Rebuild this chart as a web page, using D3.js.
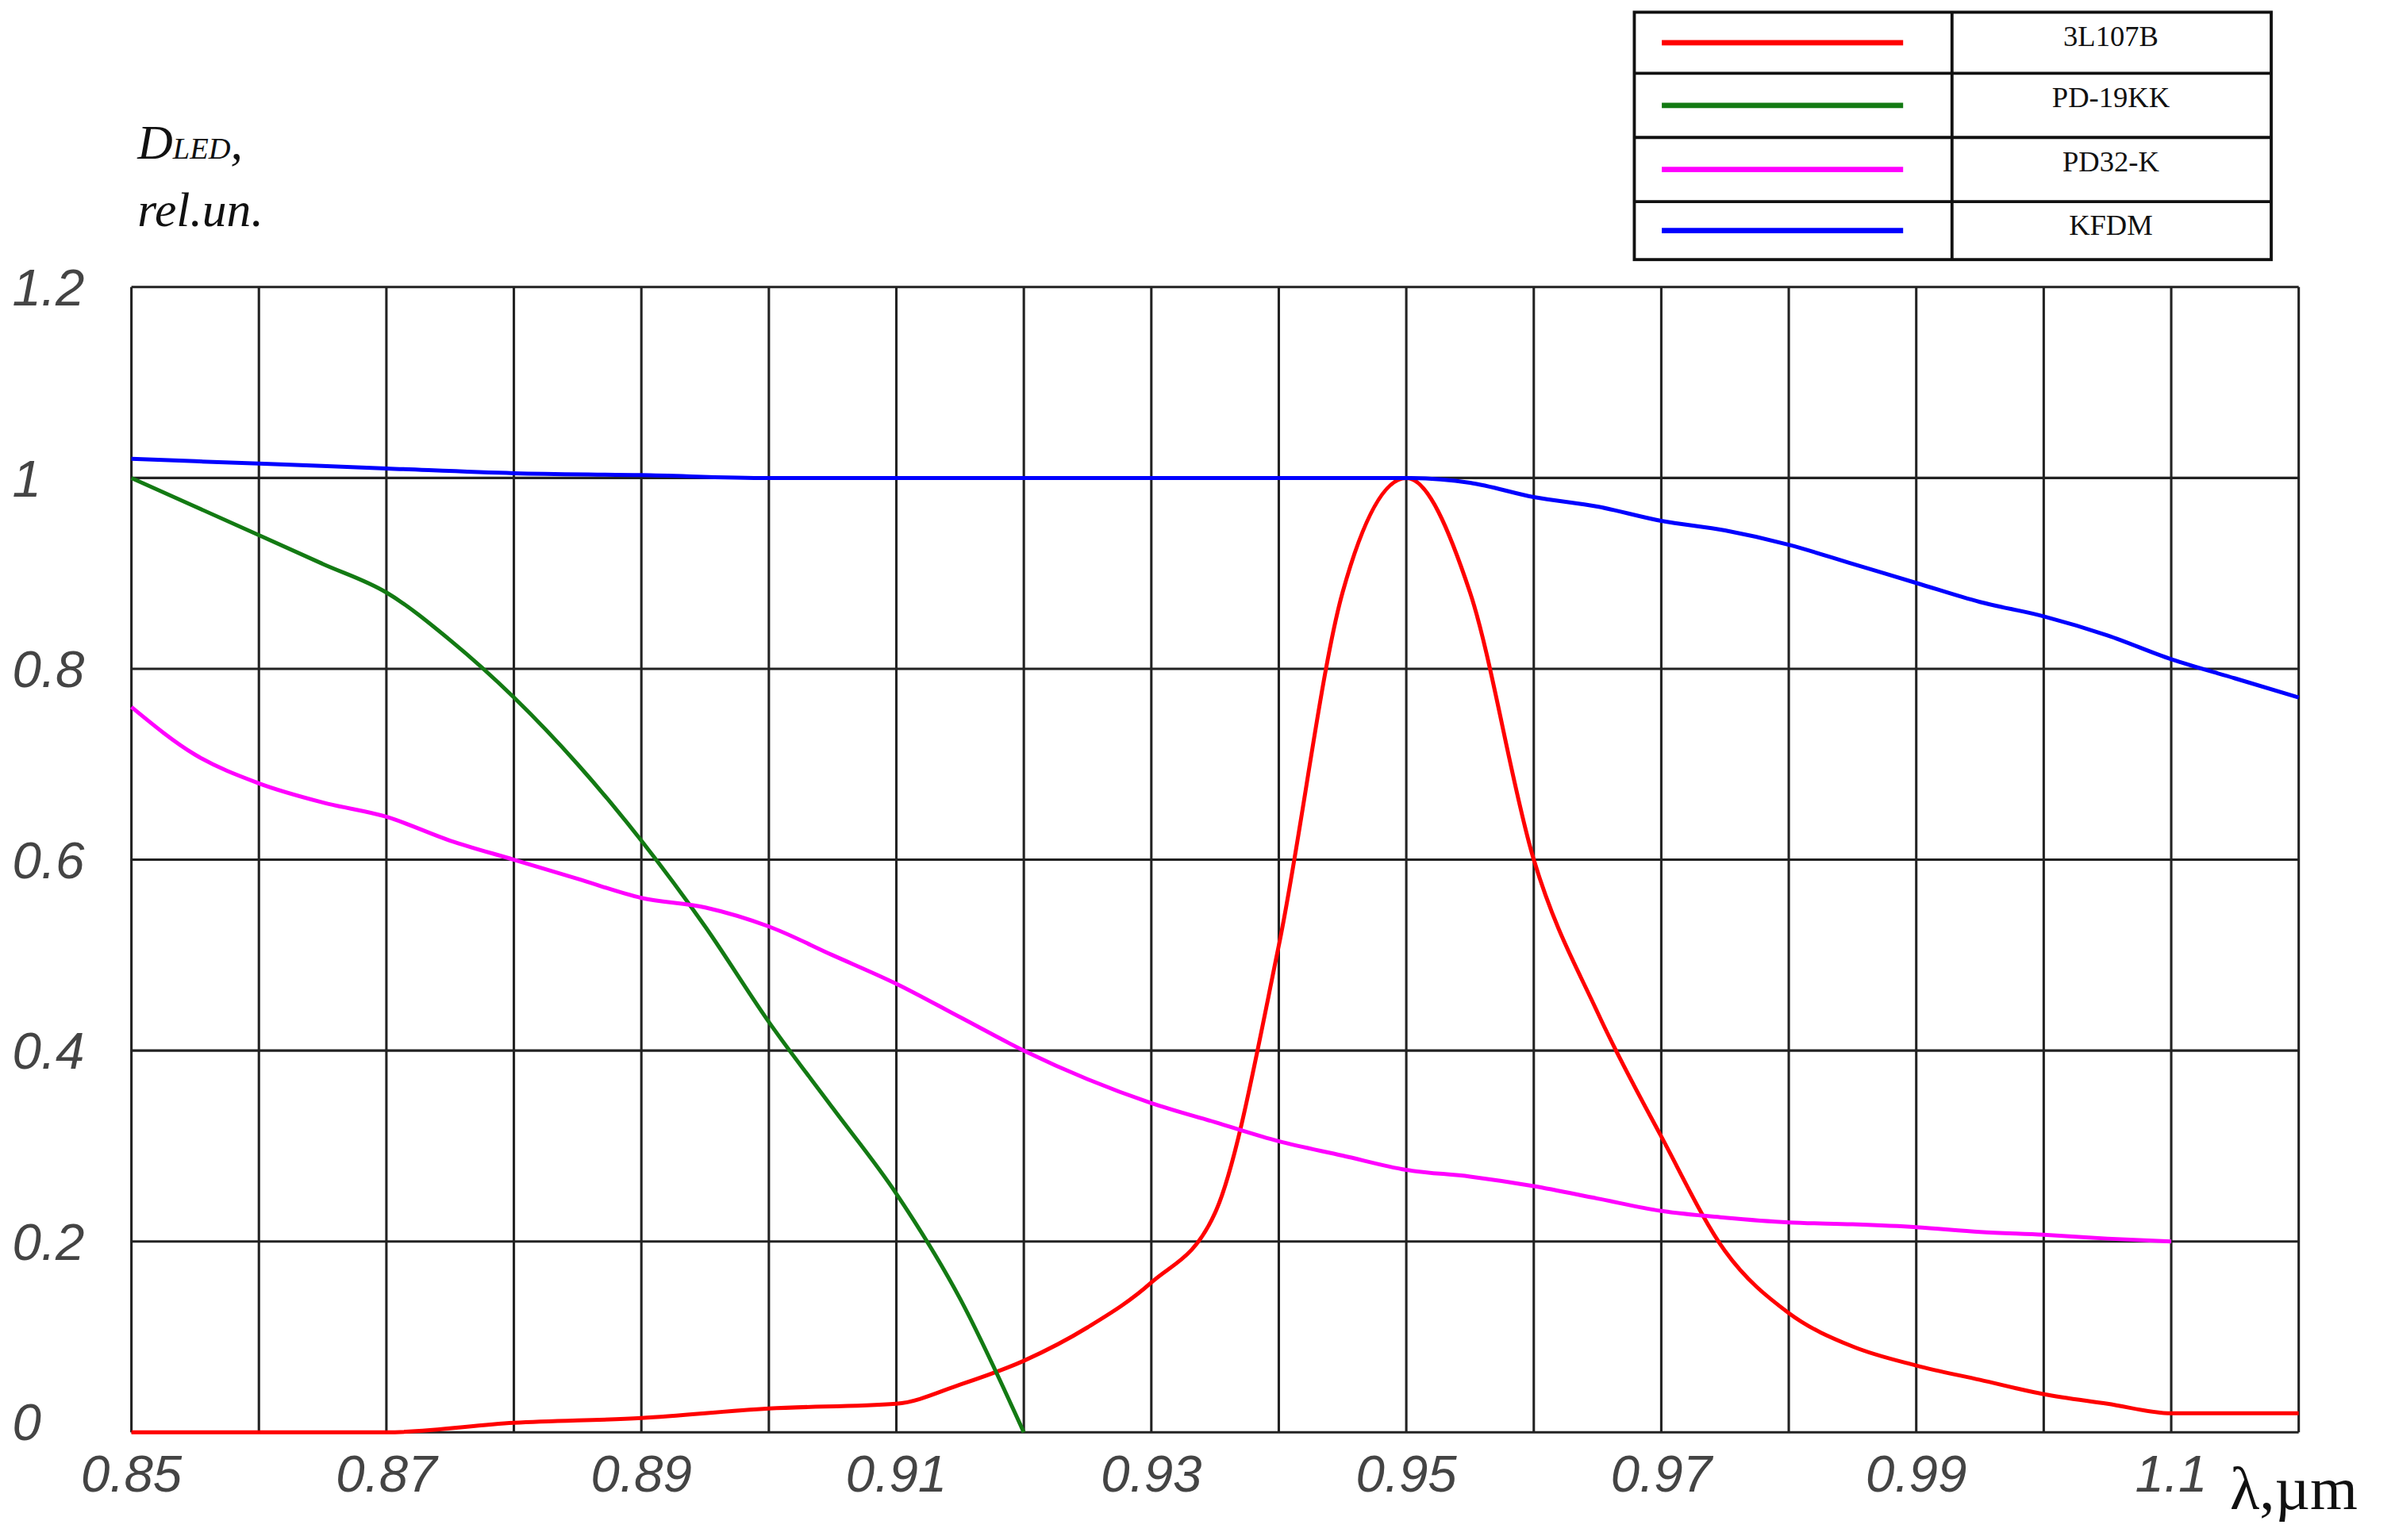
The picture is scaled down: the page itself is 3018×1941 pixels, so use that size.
<!DOCTYPE html>
<html><head><meta charset="utf-8">
<script src="https://cdn.jsdelivr.net/npm/d3@7"></script>
<style>body{margin:0;background:#fff}</style>
</head><body>
<script>
// values
var xTicks = [0.85, 0.87, 0.89, 0.91, 0.93, 0.95, 0.97, 0.99, 1.01];
var xTickLabels = ["0.85", "0.87", "0.89", "0.91", "0.93", "0.95", "0.97", "0.99", "1.1"];
var yTicks = [0, 0.2, 0.4, 0.6, 0.8, 1, 1.2];
var yTickLabels = ["0", "0.2", "0.4", "0.6", "0.8", "1", "1.2"];
var names = ["3L107B", "PD-19KK", "PD32-K", "KFDM"];
var colors = ["#ff0000", "#137a13", "#ff00ff", "#0000ff"];

var redX = [0.85,0.86,0.87,0.88,0.89,0.90,0.91,0.915,0.92,0.925,0.93,0.935,0.94,0.945,0.95,0.955,0.96,0.965,0.97,0.975,0.98,0.985,0.99,0.995,1.0,1.005,1.01,1.02];
var redY = [0,0,0,0.01,0.015,0.025,0.03,0.05,0.075,0.11,0.157,0.23,0.51,0.88,1.0,0.88,0.6,0.44,0.31,0.19,0.125,0.09,0.07,0.055,0.04,0.03,0.02,0.02];
var greenX = [0.85,0.855,0.86,0.865,0.87,0.875,0.88,0.885,0.89,0.895,0.90,0.905,0.91,0.915,0.92];
var greenY = [1.0,0.97,0.94,0.91,0.88,0.83,0.77,0.70,0.62,0.53,0.43,0.34,0.25,0.14,0];
var magX = [0.85,0.855,0.86,0.865,0.87,0.875,0.88,0.885,0.89,0.895,0.90,0.905,0.91,0.915,0.92,0.925,0.93,0.935,0.94,0.945,0.95,0.955,0.96,0.965,0.97,0.975,0.98,0.985,0.99,0.995,1.0,1.005,1.01];
var magY = [0.76,0.71,0.68,0.66,0.645,0.62,0.60,0.58,0.56,0.55,0.53,0.50,0.47,0.435,0.40,0.37,0.345,0.325,0.305,0.29,0.275,0.268,0.258,0.245,0.232,0.225,0.22,0.218,0.215,0.21,0.207,0.203,0.2];
var blueX = [0.85,0.86,0.87,0.88,0.89,0.90,0.95,0.955,0.96,0.965,0.97,0.975,0.98,0.985,0.99,0.995,1.0,1.005,1.01,1.015,1.02];
var blueY = [1.02,1.015,1.01,1.005,1.003,1.0,1.0,0.995,0.98,0.97,0.955,0.945,0.93,0.91,0.89,0.87,0.855,0.835,0.81,0.79,0.77];

var series = [[redX, redY], [greenX, greenY], [magX, magY], [blueX, blueY]];

var svg = d3.select("body").append("svg")
    .attr("width", 3018).attr("height", 1941)
    .attr("viewBox", "0 0 1568 1008.5");

var x = d3.scaleLinear().domain([0.85, 1.02]).range([86, 1505]);
var y = d3.scaleLinear().domain([0, 1.2]).range([938, 188]);

// grid
var g = svg.append("g").attr("stroke", "#222").attr("stroke-width", 1.6);
d3.range(0, 18).forEach(function(i) {
    var v = 0.85 + i * 0.01;
    g.append("line").attr("x1", x(v)).attr("x2", x(v)).attr("y1", y(0)).attr("y2", y(1.2));
});
yTicks.forEach(function(v) {
    g.append("line").attr("x1", x(0.85)).attr("x2", x(1.02)).attr("y1", y(v)).attr("y2", y(v));
});

var tickFont = "'Liberation Sans Narrow', 'Liberation Sans', sans-serif";
svg.selectAll(".xt").data(xTicks).enter().append("text")
    .attr("x", function(d) { return x(d); }).attr("y", 977)
    .attr("text-anchor", "middle").attr("font-family", tickFont)
    .attr("font-style", "italic").attr("font-size", 34).attr("fill", "#444")
    .text(function(d, i) { return xTickLabels[i]; });
svg.selectAll(".yt").data(yTicks).enter().append("text")
    .attr("x", 8).attr("y", function(d) { return y(d) + 12 - (d === 0 ? 7 : 0); })
    .attr("font-family", tickFont)
    .attr("font-style", "italic").attr("font-size", 34).attr("fill", "#444")
    .text(function(d, i) { return yTickLabels[i]; });

// curves
var line = d3.line().curve(d3.curveMonotoneX);
series.forEach(function(s, k) {
    var pts = s[0].map(function(v, i) { return [x(v), y(s[1][i])]; });
    svg.append("path").attr("d", line(pts)).attr("fill", "none")
        .attr("stroke", colors[k]).attr("stroke-width", 2.6);
});

// axis titles
var t = svg.append("text").attr("x", 90).attr("y", 104)
    .attr("font-family", "'Liberation Serif', serif").attr("font-style", "italic")
    .attr("font-size", 32).attr("fill", "#111");
t.append("tspan").text("D");
t.append("tspan").attr("font-size", 20).text("LED");
t.append("tspan").text(",");
svg.append("text").attr("x", 90).attr("y", 148)
    .attr("font-family", "'Liberation Serif', serif").attr("font-style", "italic")
    .attr("font-size", 32).attr("fill", "#111").text("rel.un.");
svg.append("text").attr("x", 1460).attr("y", 988)
    .attr("font-family", "'Liberation Serif', serif")
    .attr("font-size", 40).attr("fill", "#111").text("λ,µm");

// legend table
var rows = [8, 48, 90, 132, 170];
var lg = svg.append("g").attr("stroke", "#111").attr("stroke-width", 2).attr("fill", "none");
lg.append("rect").attr("x", 1070).attr("y", 8).attr("width", 417).attr("height", 162);
lg.append("line").attr("x1", 1278).attr("x2", 1278).attr("y1", 8).attr("y2", 170);
rows.slice(1, 4).forEach(function(r) {
    lg.append("line").attr("x1", 1070).attr("x2", 1487).attr("y1", r).attr("y2", r);
});
names.forEach(function(n, i) {
    var mid = (rows[i] + rows[i + 1]) / 2;
    svg.append("line").attr("x1", 1088).attr("x2", 1246)
        .attr("y1", mid).attr("y2", mid)
        .attr("stroke", colors[i]).attr("stroke-width", 3.5);
    svg.append("text").attr("x", 1382).attr("y", rows[i] + 22)
        .attr("text-anchor", "middle").attr("font-family", "'Liberation Serif', serif")
        .attr("font-size", 19).attr("fill", "#111").text(n);
});
</script>
</body></html>
